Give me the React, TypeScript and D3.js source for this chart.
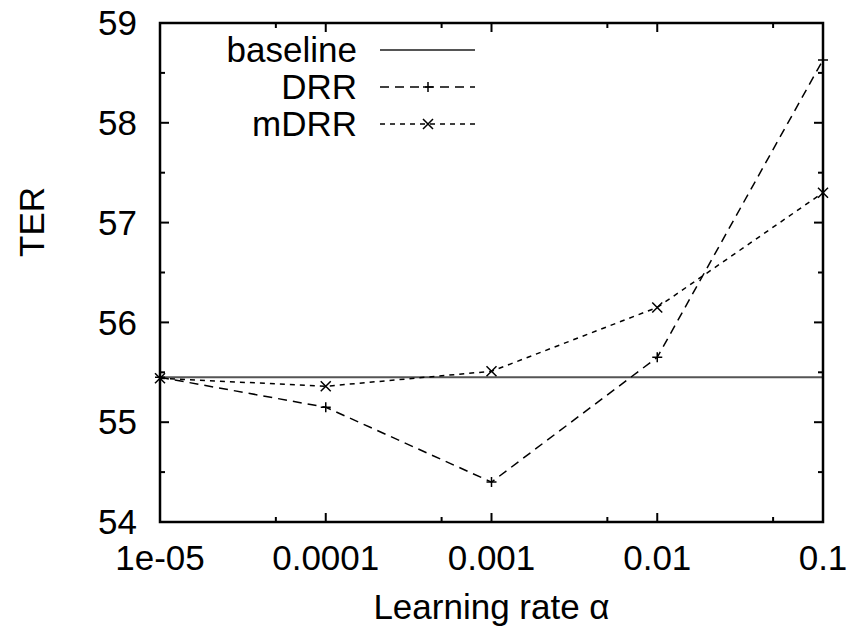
import { useEffect, useRef } from 'react';
import * as d3 from 'd3';

const rates = [1e-5, 1e-4, 1e-3, 1e-2, 1e-1];
const rateLabels = ['1e-05', '0.0001', '0.001', '0.01', '0.1'];
const baseline = [55.45, 55.45, 55.45, 55.45, 55.45];
const drr = [55.45, 55.15, 54.4, 55.65, 58.63];
const mdrr = [55.44, 55.36, 55.51, 56.15, 57.3];
const yTicks = [54, 55, 56, 57, 58, 59];

const series = [
  { name: 'baseline', values: baseline, dash: null, marker: null, color: '#555', width: 2 },
  { name: 'DRR', values: drr, dash: '9,6', marker: 'plus', color: '#000', width: 1.5 },
  { name: 'mDRR', values: mdrr, dash: '5,5', marker: 'cross', color: '#000', width: 1.5 },
];

export default function App() {
  const svgRef = useRef<SVGSVGElement>(null);

  useEffect(() => {
    if (!svgRef.current) return;
    const svg = d3.select(svgRef.current);
    svg.selectAll('*').remove();

    const W = 852, H = 633;
    const margin = { top: 23, right: 29, bottom: 111, left: 160 };
    const width = W - margin.left - margin.right;
    const height = H - margin.top - margin.bottom;
    const font = 'Liberation Sans, Arial, Helvetica, sans-serif';
    const fs = 35;

    const g = svg.append('g').attr('transform', `translate(${margin.left},${margin.top})`);

    const x = d3.scaleLog().domain([1e-5, 1e-1]).range([0, width]);
    const y = d3.scaleLinear().domain([54, 59]).range([height, 0]);

    // gnuplot-style minor ticks: one at 5x per decade, one at each half unit
    const minorX = rates.slice(0, -1).map(r => r * 5);
    const minorY = yTicks.slice(0, -1).map(v => v + 0.5);

    const ticks = g.append('g').attr('stroke', '#000').attr('stroke-width', 2);
    const major = 9, minor = 5;
    const tickX = (r: number, len: number) => {
      ticks.append('line').attr('x1', x(r)).attr('x2', x(r)).attr('y1', height).attr('y2', height - len);
      ticks.append('line').attr('x1', x(r)).attr('x2', x(r)).attr('y1', 0).attr('y2', len);
    };
    const tickY = (v: number, len: number) => {
      ticks.append('line').attr('x1', 0).attr('x2', len).attr('y1', y(v)).attr('y2', y(v));
      ticks.append('line').attr('x1', width).attr('x2', width - len).attr('y1', y(v)).attr('y2', y(v));
    };
    rates.forEach(r => tickX(r, major));
    minorX.forEach(r => tickX(r, minor));
    yTicks.forEach(v => tickY(v, major));
    minorY.forEach(v => tickY(v, minor));

    // tick labels
    g.selectAll('.ylab').data(yTicks).enter().append('text')
      .attr('x', -23).attr('y', d => y(d)).attr('dy', '0.35em')
      .attr('text-anchor', 'end').attr('font-family', font).attr('font-size', fs)
      .text(d => d);
    g.selectAll('.xlab').data(rates).enter().append('text')
      .attr('x', d => x(d)).attr('y', height + 48)
      .attr('text-anchor', 'middle').attr('font-family', font).attr('font-size', fs)
      .text((d, i) => rateLabels[i]);

    svg.append('text')
      .attr('x', margin.left + width / 2).attr('y', 619)
      .attr('text-anchor', 'middle').attr('font-family', font).attr('font-size', fs)
      .text('Learning rate α');
    svg.append('text')
      .attr('transform', 'translate(44,222) rotate(-90)')
      .attr('text-anchor', 'middle').attr('font-family', font).attr('font-size', fs)
      .text('TER');

    const drawMarker = (sel: any, type: string | null, cx: number, cy: number) => {
      const s = 5;
      if (type === 'plus') {
        sel.append('path').attr('d', `M${cx - s},${cy}H${cx + s}M${cx},${cy - s}V${cy + s}`)
          .attr('stroke', '#000').attr('stroke-width', 1.5).attr('fill', 'none');
      } else if (type === 'cross') {
        sel.append('path').attr('d', `M${cx - s},${cy - s}L${cx + s},${cy + s}M${cx - s},${cy + s}L${cx + s},${cy - s}`)
          .attr('stroke', '#000').attr('stroke-width', 1.5).attr('fill', 'none');
      }
    };

    const line = d3.line<number>().x((d, i) => x(rates[i])).y(d => y(d));
    series.forEach(s => {
      const p = g.append('path').attr('d', line(s.values))
        .attr('fill', 'none').attr('stroke', s.color).attr('stroke-width', s.width);
      if (s.dash) p.attr('stroke-dasharray', s.dash);
      s.values.forEach((v, i) => drawMarker(g, s.marker, x(rates[i]), y(v)));
    });

    // legend
    const lg = svg.append('g');
    series.forEach((s, i) => {
      const ly = 50 + i * 37;
      lg.append('text').attr('x', 357).attr('y', ly).attr('dy', '0.35em')
        .attr('text-anchor', 'end').attr('font-family', font).attr('font-size', fs).text(s.name);
      const p = lg.append('line').attr('x1', 380).attr('x2', 475).attr('y1', ly).attr('y2', ly)
        .attr('stroke', s.color).attr('stroke-width', s.width);
      if (s.dash) p.attr('stroke-dasharray', s.dash);
      drawMarker(lg, s.marker, 428, ly);
    });

    // frame
    g.append('rect').attr('width', width).attr('height', height)
      .attr('fill', 'none').attr('stroke', '#000').attr('stroke-width', 2.5);
  }, []);

  return (
    <svg ref={svgRef} width={852} height={633}
      style={{ position: 'absolute', left: 0, top: 0, background: '#fff' }} />
  );
}
